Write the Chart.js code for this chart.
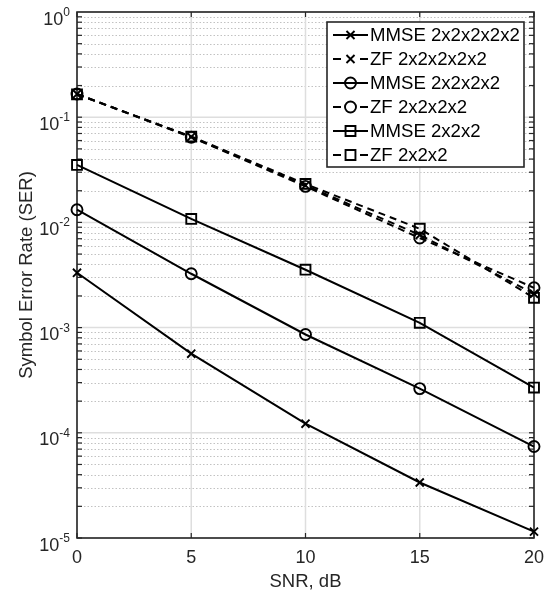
<!DOCTYPE html>
<html>
<head>
<meta charset="utf-8">
<script src="https://cdn.jsdelivr.net/npm/chart.js@4/dist/chart.umd.min.js"></script>
<style>
  html, body { margin: 0; padding: 0; background: #ffffff; }
  canvas { display: block; }
</style>
</head>
<body>
<canvas id="c" width="555" height="593"></canvas>
<script>
// ---- data ----
const snr = [0, 5, 10, 15, 20];
const mmse2x2x2x2x2 = [3.32e-3, 5.65e-4, 1.22e-4, 3.37e-5, 1.15e-5];
const zf2x2x2x2x2   = [0.166, 0.065, 0.0225, 0.0076, 0.0021];
const mmse2x2x2x2   = [0.0132, 0.00325, 8.6e-4, 2.63e-4, 7.4e-5];
const zf2x2x2x2     = [0.166, 0.0645, 0.022, 0.0071, 0.00239];
const mmse2x2x2     = [0.0352, 0.0108, 0.00355, 0.00111, 2.69e-4];
const zf2x2x2       = [0.165, 0.0655, 0.0232, 0.0087, 0.00192];
const seriesNames = ['MMSE 2x2x2x2x2', 'ZF 2x2x2x2x2', 'MMSE 2x2x2x2', 'ZF 2x2x2x2', 'MMSE 2x2x2', 'ZF 2x2x2'];
const xTicks = [0, 5, 10, 15, 20];
const yTickExps = [0, -1, -2, -3, -4, -5];
const xTitle = 'SNR, dB';
const yTitle = 'Symbol Error Rate (SER)';

// ---- styles ----
const INK = '#262626';
const FONT = '"Liberation Sans", Arial, Helvetica, sans-serif';
const DASH = [7, 5];
const styles = [
  { pointStyle: 'crossRot', radius: 5.7, dash: [] },
  { pointStyle: 'crossRot', radius: 5.7, dash: DASH },
  { pointStyle: 'circle',   radius: 5.5, dash: [] },
  { pointStyle: 'circle',   radius: 5.5, dash: DASH },
  { pointStyle: 'rect',     radius: 7,   dash: [] },
  { pointStyle: 'rect',     radius: 7,   dash: DASH }
];
const seriesValues = [mmse2x2x2x2x2, zf2x2x2x2x2, mmse2x2x2x2, zf2x2x2x2, mmse2x2x2, zf2x2x2];

const datasets = seriesValues.map((vals, i) => ({
  label: seriesNames[i],
  data: snr.map((s, j) => ({ x: s, y: vals[j] })),
  borderColor: '#000000',
  backgroundColor: 'rgba(0,0,0,0)',
  borderWidth: 2,
  borderDash: styles[i].dash,
  pointStyle: styles[i].pointStyle,
  pointRadius: styles[i].radius,
  pointBorderWidth: 1.9,
  pointBorderColor: '#000000',
  pointBackgroundColor: 'rgba(0,0,0,0)',
  tension: 0,
  clip: false
}));

function seg(ctx, x1, y1, x2, y2) {
  ctx.beginPath(); ctx.moveTo(x1, y1); ctx.lineTo(x2, y2); ctx.stroke();
}

const matlabPlugin = {
  id: 'matlabAxes',
  beforeDatasetsDraw(chart) {
    const { ctx, chartArea: a, scales: { x, y } } = chart;
    ctx.save();
    const eMax = Math.max(...yTickExps), eMin = Math.min(...yTickExps);
    // minor dotted grid
    ctx.strokeStyle = '#c2c2c2';
    ctx.lineWidth = 1;
    ctx.setLineDash([1.5, 2]);
    for (let e = eMin; e < eMax; e++) {
      for (let k = 2; k <= 9; k++) {
        const py = Math.round(y.getPixelForValue(k * Math.pow(10, e))) + 0.5;
        seg(ctx, a.left, py, a.right, py);
      }
    }
    // major grid
    ctx.setLineDash([]);
    ctx.strokeStyle = '#dedede';
    ctx.lineWidth = 1.5;
    yTickExps.forEach(e => {
      const py = y.getPixelForValue(Math.pow(10, e));
      seg(ctx, a.left, py, a.right, py);
    });
    xTicks.forEach(t => {
      const px = x.getPixelForValue(t);
      seg(ctx, px, a.top, px, a.bottom);
    });
    // tick marks
    ctx.strokeStyle = INK;
    ctx.lineWidth = 1.2;
    const TL = 5;
    for (let e = eMin; e < eMax; e++) {
      for (let k = 1; k <= 9; k++) {
        const py = y.getPixelForValue(k * Math.pow(10, e));
        seg(ctx, a.left, py, a.left + TL, py);
        seg(ctx, a.right, py, a.right - TL, py);
      }
    }
    xTicks.forEach(t => {
      const px = x.getPixelForValue(t);
      seg(ctx, px, a.bottom, px, a.bottom - TL);
      seg(ctx, px, a.top, px, a.top + TL);
    });
    // axes box
    ctx.lineWidth = 1.6;
    ctx.strokeRect(a.left, a.top, a.right - a.left, a.bottom - a.top);

    // tick labels
    ctx.fillStyle = INK;
    ctx.textBaseline = 'alphabetic';
    xTicks.forEach(t => {
      const px = x.getPixelForValue(t);
      ctx.font = '18px ' + FONT;
      ctx.textAlign = 'center';
      ctx.fillText(String(t), px, a.bottom + 25);
    });
    const rightEdge = a.left - 7;
    yTickExps.forEach(e => {
      const py = y.getPixelForValue(Math.pow(10, e));
      ctx.font = '12px ' + FONT;
      const sup = e < 0 ? '-' + Math.abs(e) : String(e);
      const wSup = ctx.measureText(sup).width;
      ctx.font = '18px ' + FONT;
      const wBase = ctx.measureText('10').width;
      ctx.textAlign = 'left';
      ctx.fillText('10', rightEdge - wSup - wBase, py + 12.5);
      ctx.font = '12px ' + FONT;
      ctx.fillText(sup, rightEdge - wSup, py + 4);
    });
    // axis titles
    ctx.font = '18.5px ' + FONT;
    ctx.textAlign = 'center';
    ctx.fillText(xTitle, (a.left + a.right) / 2, a.bottom + 49);
    ctx.save();
    ctx.translate(32, (a.top + a.bottom) / 2);
    ctx.rotate(-Math.PI / 2);
    ctx.fillText(yTitle, 0, 0);
    ctx.restore();
    ctx.restore();
  },
  afterDatasetsDraw(chart) {
    const { ctx } = chart;
    ctx.save();
    // legend box
    const bx = 327, by = 22, bw = 197, bh = 145;
    ctx.fillStyle = '#ffffff';
    ctx.fillRect(bx, by, bw, bh);
    ctx.strokeStyle = INK;
    ctx.lineWidth = 1.6;
    ctx.strokeRect(bx, by, bw, bh);
    seriesNames.forEach((name, i) => {
      const ry = 35 + i * 24;
      const x1 = 333, x2 = 368, mx = 350.5;
      ctx.strokeStyle = '#000000';
      ctx.lineWidth = 2;
      if (styles[i].dash.length) {
        ctx.setLineDash([8, 19]);
      } else {
        ctx.setLineDash([]);
      }
      seg(ctx, x1, ry, x2, ry);
      ctx.setLineDash([]);
      ctx.fillStyle = 'rgba(0,0,0,0)';
      ctx.lineWidth = 1.9;
      Chart.helpers.drawPoint(ctx, {
        pointStyle: styles[i].pointStyle,
        radius: styles[i].radius,
        borderWidth: 1.9,
        rotation: 0
      }, mx, ry);
      ctx.fillStyle = '#000000';
      ctx.font = '18.6px ' + FONT;
      ctx.textAlign = 'left';
      ctx.textBaseline = 'middle';
      ctx.fillText(name, 370, ry + 1);
    });
    ctx.restore();
  }
};

new Chart(document.getElementById('c'), {
  type: 'line',
  data: { datasets },
  options: {
    responsive: false,
    animation: false,
    layout: { padding: { left: 77, right: 21, top: 12, bottom: 55 } },
    plugins: { legend: { display: false }, tooltip: { enabled: false } },
    scales: {
      x: { type: 'linear', min: 0, max: 20, display: false },
      y: { type: 'logarithmic', min: 1e-5, max: 1, display: false }
    }
  },
  plugins: [matlabPlugin]
});
</script>
</body>
</html>
